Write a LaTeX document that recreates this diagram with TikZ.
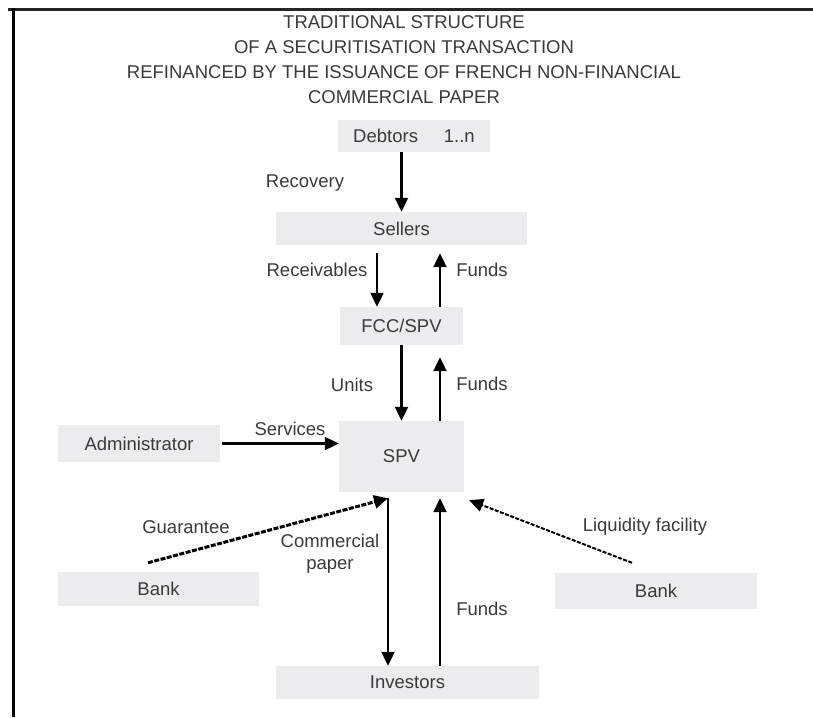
\documentclass[tikz,border=0pt]{standalone}
\usepackage{fontspec}
\setmainfont{Liberation Sans}
\usetikzlibrary{arrows.meta}
\definecolor{boxgray}{RGB}{236,235,238}
\definecolor{txtgray}{RGB}{58,58,58}
\tikzset{
	box/.style={fill=boxgray, text=txtgray, inner sep=0pt},
	lbl/.style={text=txtgray, inner sep=0pt},
	arr/.style={line width=2.1pt, -{Triangle[length=14pt,width=13pt]}},
	dsh/.style={line width=2pt, dash pattern=on 4pt off 1.5pt, -{Triangle[length=14pt,width=13pt]}},
	dshthick/.style={line width=3pt, dash pattern=on 5pt off 1.5pt, -{Triangle[length=14pt,width=13pt]}}
}
\begin{document}
\begin{tikzpicture}[x=1pt, y=-1pt, font=\fontsize{18.5}{22}\selectfont]
\useasboundingbox (0,0) rectangle (813,717);
% frame
\draw[line width=3pt, black!85] (8,10) -- (813,10);
\draw[line width=3pt] (13,8) -- (13,717);
% title
\foreach \t [count=\i] in {TRADITIONAL STRUCTURE, OF A SECURITISATION TRANSACTION, REFINANCED BY THE ISSUANCE OF FRENCH NON-FINANCIAL, COMMERCIAL PAPER}
{
	\node[lbl] (title\i) at (404, -3+25*\i) {\t};
}
% boxes
\node[box, minimum width=152pt, minimum height=32pt] (debtors) at (414,136) {Debtors\hspace{1.4em}1..n};
\node[box, minimum width=251pt, minimum height=33pt] (sellers) at (401.5,228.5) {Sellers};
\node[box, minimum width=123pt, minimum height=38pt] (fcc) at (401.5,326) {FCC/SPV};
\node[box, minimum width=125pt, minimum height=71pt] (spv) at (401.5,456.5) {SPV};
\node[box, minimum width=162pt, minimum height=37pt] (admin) at (139,443.5) {Administrator};
\node[box, minimum width=201pt, minimum height=34pt] (bankl) at (158.5,589) {Bank};
\node[box, minimum width=202pt, minimum height=36pt] (bankr) at (656,591) {Bank};
\node[box, minimum width=263pt, minimum height=33pt] (investors) at (407.5,682.5) {Investors};
% flows
\draw[arr] (debtors.south -| sellers.north) -- (sellers.north);
\draw[arr] ([xshift=-24.5pt,yshift=-8pt]fcc.north |- sellers.south) -- ([xshift=-24.5pt]fcc.north);
\draw[arr] ([xshift=38.5pt]fcc.north) -- ([xshift=38.5pt,yshift=-8pt]fcc.north |- sellers.south);
\draw[arr] (fcc.south) -- (spv.north);
\draw[arr] ([xshift=38.5pt]spv.north) -- ([xshift=38.5pt,yshift=-12pt]spv.north |- fcc.south);
\draw[arr] ([xshift=2pt]admin.east) -- (admin.east -| spv.west);
\draw[dshthick] ([xshift=-10.5pt,yshift=9pt]bankl.north) -- ([xshift=-13.5pt,yshift=-6pt]spv.south);
\draw[arr] ([xshift=-13.5pt,yshift=-6pt]spv.south) -- ([xshift=-13.5pt]spv.south |- investors.north);
\draw[arr] ([xshift=38.5pt]spv.south |- investors.north) -- ([xshift=38.5pt,yshift=-6pt]spv.south);
\draw[dsh] ([xshift=-24pt,yshift=10pt]bankr.north) -- ([xshift=5pt,yshift=-8pt]spv.south east);
% labels
\node[lbl] (recovery) at (305,183) {Recovery};
\node[lbl] (receivables) at (317,270) {Receivables};
\node[lbl] (funds1) at (482,270) {Funds};
\node[lbl] (units) at (352,385) {Units};
\node[lbl] (funds2) at (482,384) {Funds};
\node[lbl] (services) at (290,429) {Services};
\node[lbl] (guarantee) at (186,527) {Guarantee};
\node[lbl, align=center] (cpaper) at (330,554) {Commercial\\paper};
\node[lbl] (funds3) at (482,609) {Funds};
\node[lbl] (liquidity) at (645,527) {Liquidity facility};
\end{tikzpicture}
\end{document}
